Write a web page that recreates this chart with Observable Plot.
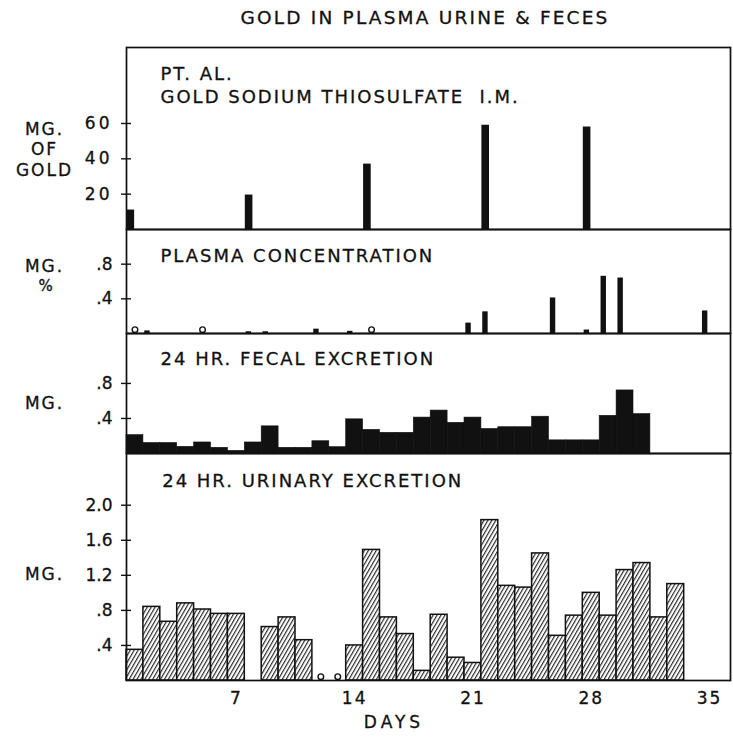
<!DOCTYPE html>
<html><head><meta charset="utf-8">
<script src="https://cdn.jsdelivr.net/npm/d3@7"></script>
<script src="https://cdn.jsdelivr.net/npm/@observablehq/plot@0.6"></script>
<style>
body{margin:0;background:#fff;}
#wrap{position:relative;width:733px;height:737px;overflow:hidden;font-family:"DejaVu Sans",sans-serif;color:#111;background:#fff;}
#wrap svg{position:absolute;left:0;overflow:visible;background:transparent;}
#wrap svg text{font-family:"DejaVu Sans",sans-serif;fill:#111;stroke:#111;stroke-width:0.3px;}
#wrap g[aria-label="text"] text{letter-spacing:2px;}
#wrap .p1 g[aria-label="y-axis tick label"] text{letter-spacing:3px;}
.title{position:absolute;left:175px;width:500px;text-align:center;top:9px;font-size:18.5px;line-height:1;letter-spacing:2.2px;-webkit-text-stroke:0.3px #111;}
.days{position:absolute;left:344px;width:100px;text-align:center;top:714px;font-size:17px;line-height:1;letter-spacing:4px;-webkit-text-stroke:0.3px #111;}
</style></head>
<body>
<div id="wrap">
  <div class="title">GOLD IN PLASMA URINE &amp; FECES</div>
  <div class="days">DAYS</div>
</div>
<script>
// ---- data ----
const doseDays = [1, 8, 15, 22, 28];
const doseMg = [11, 19.5, 37, 59, 58];

const plasmaDays = [2, 8, 9, 12, 14, 21, 22, 26, 28, 29, 30, 35];
const plasmaMgPct = [0.03, 0.02, 0.02, 0.05, 0.025, 0.12, 0.25, 0.41, 0.04, 0.66, 0.64, 0.26];
const plasmaNilDays = [1, 5, 15];

const fecalDays = [1,2,3,4,5,6,7,8,9,10,11,12,13,14,15,16,17,18,19,20,21,22,23,24,25,26,27,28,29,30,31];
const fecalMg = [0.21,0.12,0.12,0.076,0.126,0.065,0.03,0.126,0.31,0.065,0.065,0.14,0.072,0.39,0.27,0.236,0.236,0.41,0.49,0.35,0.41,0.28,0.30,0.30,0.42,0.15,0.15,0.15,0.43,0.72,0.45];

const urineDays = [1,2,3,4,5,6,7,9,10,11,14,15,16,17,18,19,20,21,22,23,24,25,26,27,28,29,30,31,32,33];
const urineMg = [0.35,0.84,0.67,0.88,0.81,0.76,0.76,0.61,0.72,0.46,0.40,1.49,0.72,0.53,0.11,0.75,0.26,0.20,1.83,1.08,1.06,1.45,0.51,0.74,1.00,0.74,1.26,1.34,0.72,1.10];
const urineNilDays = [12, 13];

const xTicks = [7, 14, 21, 28, 35];
const xTickLabels = ["7", "14", "21", "28", "35"];
const doseTicks = [20, 40, 60];
const plasmaTicks = [0.4, 0.8];
const fecalTicks = [0.4, 0.8];
const urineTicks = [0.4, 0.8, 1.2, 1.6, 2.0];

// ---- tables ----
const doseRows = doseDays.map((day, i) => ({day, v: doseMg[i]}));
const plasmaRows = plasmaDays.map((day, i) => ({day, v: plasmaMgPct[i]}));
const fecalRows = fecalDays.map((day, i) => ({day, v: fecalMg[i]}));
const urineRows = urineDays.map((day, i) => ({day, v: urineMg[i]}));
const xTickRows = xTicks.map((day, i) => ({day, t: xTickLabels[i]}));

const wrap = document.getElementById("wrap");
const INK = "#111";
const W = 733, ML = 126, MR = 3;
const XDOM = [0.5, 36.24];
const decFmt = d => d.toFixed(1).replace(/^0/, "");

function label(txt, dx, dy, size = 18, anchor = "start") {
  return Plot.text([txt], {frameAnchor: "top-left", dx, dy, lineAnchor: "top", textAnchor: anchor, fontSize: size});
}

function panel({top, h, mb = 0, yMax, ticks, fmt, marks, cls}) {
  const svg = Plot.plot({
    width: W, height: h + mb,
    marginLeft: ML, marginRight: MR, marginTop: 0, marginBottom: mb,
    className: cls,
    x: {domain: XDOM, axis: null},
    y: {domain: [0, yMax], label: null},
    marks: [
      ...marks,
      Plot.axisY({ticks, tickSize: 10, dx: 5, tickPadding: 9, tickFormat: fmt, fontSize: 17, stroke: INK, strokeWidth: 1.4, label: null}),
      Plot.frame({stroke: INK, strokeWidth: 1.7})
    ]
  });
  svg.style.top = top + "px";
  wrap.appendChild(svg);
  return svg;
}

// Panel 1: doses
panel({
  top: 47, h: 182, yMax: 103, ticks: doseTicks, fmt: d => String(d), cls: "p1",
  marks: [
    Plot.rect(doseRows, {x1: d => d.day - 0.47, x2: d => d.day - 0.02, y1: 0, y2: "v", fill: INK}),
    label("PT. AL.", 34, 19.7),
    label("GOLD SODIUM THIOSULFATE  I.M.", 34, 43),
    label("MG.", -82, 75, 17, "middle"),
    label("OF", -82, 95, 17, "middle"),
    label("GOLD", -82, 116, 17, "middle")
  ]
});

// Panel 2: plasma
panel({
  top: 229, h: 104, yMax: 1.2, ticks: plasmaTicks, fmt: decFmt, cls: "p2",
  marks: [
    Plot.rect(plasmaRows, {x1: d => d.day - 0.42, x2: d => d.day - 0.1, y1: 0, y2: "v", fill: INK}),
    Plot.dot(plasmaNilDays, {x: d => d, y: 0, r: 2.8, dy: -3.8, stroke: INK, fill: "white", strokeWidth: 1.4}),
    label("PLASMA CONCENTRATION", 34, 20),
    label("MG.", -82, 30, 17, "middle"),
    label("%", -80, 51, 15, "middle")
  ]
});

// Panel 3: fecal
panel({
  top: 333, h: 120, yMax: 1.37, ticks: fecalTicks, fmt: decFmt, cls: "p3",
  marks: [
    Plot.rect(fecalRows, {x1: d => d.day - 0.5, x2: d => d.day + 0.5, y1: 0, y2: "v", fill: INK, stroke: INK, strokeWidth: 0.6}),
    label("24 HR. FECAL EXCRETION", 34, 18.7),
    label("MG.", -82, 63, 17, "middle")
  ]
});

// Panel 4: urinary (with day labels)
const svg4 = panel({
  top: 453, h: 227, mb: 40, yMax: 2.59, ticks: urineTicks, fmt: decFmt, cls: "p4",
  marks: [
    Plot.rect(urineRows, {x1: d => d.day - 0.5, x2: d => d.day + 0.5, y1: 0, y2: "v", fill: "url(#hatch)", stroke: INK, strokeWidth: 1.5}),
    Plot.dot(urineNilDays, {x: d => d, y: 0, r: 2.8, dy: -3.8, stroke: INK, fill: "white", strokeWidth: 1.4}),
    Plot.text(xTickRows, {x: "day", text: "t", frameAnchor: "bottom", lineAnchor: "top", dy: 11, fontSize: 17}),
    label("24 HR. URINARY EXCRETION", 35.7, 20.3),
    label("MG.", -82, 114, 17, "middle")
  ]
});
d3.select(svg4).insert("defs", ":first-child").html(
  '<pattern id="hatch" patternUnits="userSpaceOnUse" width="3.4" height="10" patternTransform="rotate(30)">' +
  '<rect width="3.4" height="10" fill="#fff"/>' +
  '<line x1="0.6" y1="0" x2="0.6" y2="10" stroke="#111" stroke-width="1.05"/></pattern>'
);
</script>
</body></html>
